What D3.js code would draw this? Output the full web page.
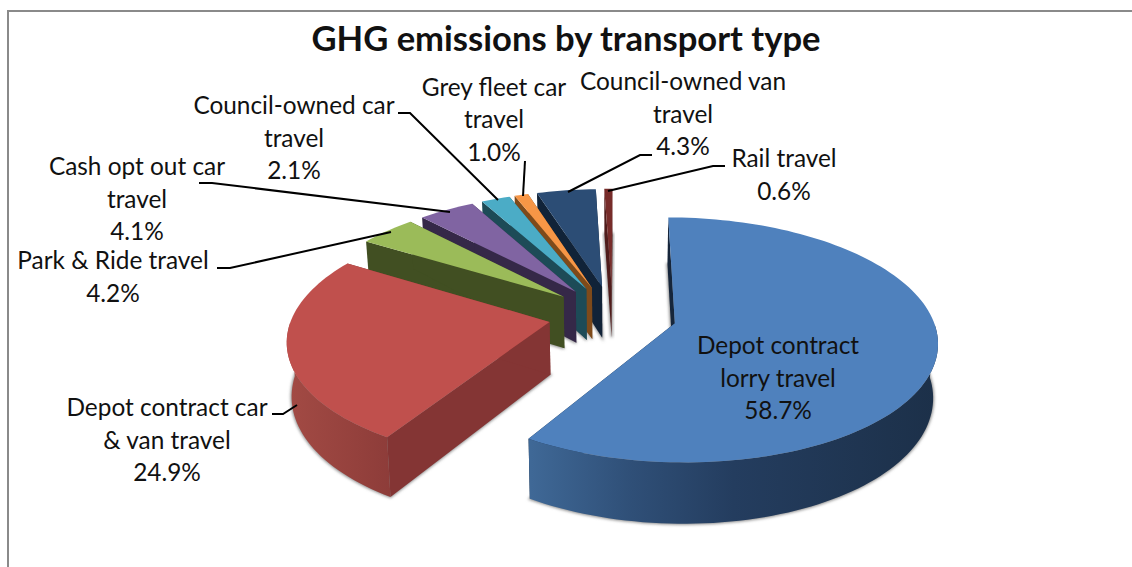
<!DOCTYPE html>
<html>
<head>
<meta charset="utf-8">
<script src="https://cdn.jsdelivr.net/npm/d3@7"></script>
<style>
  html, body { margin: 0; padding: 0; background: #fff; }
  text { font-family: Lato, "Open Sans", sans-serif; fill: #111; }
</style>
</head>
<body>
<div id="chart"></div>
<script>
// data
var categories = ["Depot contract lorry travel", "Depot contract car & van travel", "Park & Ride travel",
    "Cash opt out car travel", "Council-owned car travel", "Grey fleet car travel",
    "Council-owned van travel", "Rail travel"];
var shares = [58.7, 24.9, 4.2, 4.1, 2.1, 1.0, 4.3, 0.6];

// wrapped label text, same order as categories
var labelLines = [
    ["Depot contract", "lorry travel"],
    ["Depot contract car", "& van travel"],
    ["Park & Ride travel"],
    ["Cash opt out car", "travel"],
    ["Council-owned car", "travel"],
    ["Grey fleet car", "travel"],
    ["Council-owned van", "travel"],
    ["Rail travel"]
];

var topColours = ["#4f81bd", "#c0504d", "#9bbb59", "#8064a2", "#4bacc6", "#f79646", "#2c4d75", "#772c2a"];
var wallColours = ["#16263b", "#843534", "#414f22", "#352848", "#1d4b57", "#7e4a1a", "#112338", "#4f1c1b"];

// label anchor (centre x, first baseline) and leader line, layout only
var labelPos = [[778, 354], [167, 416], [113, 269], [137, 175], [294, 114], [494, 95.5], [683, 90], [784, 167]];
var leaders = [
    null,
    [[297, 405], [283, 414], [272, 414]],
    [[391, 232], [230, 268], [217, 268]],
    [[450, 212], [212, 183], [199, 183]],
    [[498, 200], [410, 113], [398, 113]],
    [[523, 196], [525, 161]],
    [[568, 192], [640, 155], [652, 155]],
    [[608, 191], [713, 166], [725, 166]]
];

var width = 1132, height = 567;
var lineStep = 32.5;

// pie plane -> screen, simple perspective
var perspective = 0.135, explode = 0.25, depth = 52.5, depthShrink = 0.985, rotation = 0.004;
var xScale = d3.scaleLinear().domain([-1, 1]).range([612.5 - 257, 612.5 + 257]);
var yScale = d3.scaleLinear().domain([-1, 1]).range([315 - 118, 315 + 118]);

function project(u, v) {
    var w = 1 - perspective * v;
    return [xScale(u / w), yScale(v / w)];
}

function projectBottom(u, v) {
    var w = 1 - perspective * v;
    var p = project(u, v);
    return [xScale(0) + (p[0] - xScale(0)) * depthShrink, p[1] + depth / w];
}

var svg = d3.select("#chart")
    .append("svg")
    .attr("width", width)
    .attr("height", height);

var defs = svg.append("defs");

defs.append("filter")
    .attr("id", "soft")
    .attr("x", "-20%").attr("y", "-20%").attr("width", "140%").attr("height", "140%")
    .append("feGaussianBlur")
    .attr("stdDeviation", 1.6);

// outer wall shading
function wallGradient(id, x1, x2, stops) {
    var g = defs.append("linearGradient")
        .attr("id", id)
        .attr("gradientUnits", "userSpaceOnUse")
        .attr("x1", x1).attr("x2", x2).attr("y1", 0).attr("y2", 0);
    stops.forEach(function(s) {
        g.append("stop").attr("offset", s[0]).attr("stop-color", s[1]);
    });
}
wallGradient("wall0", 531, 935, [[0, "#3f6896"], [0.25, "#2f4f77"], [0.5, "#243d5f"], [1, "#1c3049"]]);
wallGradient("wall1", 290, 392, [[0, "#a24a44"], [1, "#8d3c39"]]);

svg.append("path")
    .attr("d", "M8," + height + "V11H" + width)
    .attr("fill", "none")
    .attr("stroke", "#8a8a8a")
    .attr("stroke-width", 2);

svg.append("text")
    .attr("x", 566)
    .attr("y", 51)
    .attr("text-anchor", "middle")
    .style("font-size", "34.6px")
    .style("font-weight", 700)
    .text("GHG emissions by transport type");

var pie = d3.pie().sort(null).value(function(d) { return d; })
    .startAngle(rotation).endAngle(rotation + 2 * Math.PI);
var arcs = pie(shares);

var line = d3.line();

function slicePoints(d) {
    var mid = (d.startAngle + d.endAngle) / 2;
    var ox = explode * Math.sin(mid), oy = -explode * Math.cos(mid);
    var n = Math.max(2, Math.ceil((d.endAngle - d.startAngle) / 0.03));
    var rim = d3.range(n + 1).map(function(i) {
        var a = d.startAngle + (d.endAngle - d.startAngle) * i / n;
        return { a: a, u: ox + Math.sin(a), v: oy - Math.cos(a) };
    });
    return { ox: ox, oy: oy, rim: rim };
}

var slices = arcs.map(function(d, i) {
    var s = slicePoints(d);
    s.index = i;
    s.first = s.rim[0];
    s.last = s.rim[s.rim.length - 1];
    return s;
});

// back slices first, the two big ones last
var drawOrder = [7, 6, 5, 4, 3, 2, 1, 0];

var g = svg.append("g");

drawOrder.forEach(function(i) {
    var s = slices[i];
    var top = [project(s.ox, s.oy)].concat(s.rim.map(function(r) { return project(r.u, r.v); }));
    var bottom = [projectBottom(s.ox, s.oy)].concat(s.rim.map(function(r) { return projectBottom(r.u, r.v); }));

    // blurred shadow on the floor
    g.append("path")
        .attr("d", line(bottom) + "Z")
        .attr("fill", "#8c8c8c")
        .attr("stroke", "#8c8c8c")
        .attr("stroke-width", 2)
        .attr("filter", "url(#soft)");

    // the two cut faces
    [s.first, s.last].forEach(function(r) {
        g.append("path")
            .attr("d", line([
                project(s.ox, s.oy), project(r.u, r.v),
                projectBottom(r.u, r.v), projectBottom(s.ox, s.oy)
            ]) + "Z")
            .attr("fill", wallColours[i]);
    });

    // outer wall, only the part turned to the viewer
    var front = s.rim.filter(function(r) { return Math.cos(r.a) < 0; });
    if (front.length > 1) {
        var wall = front.map(function(r) { return project(r.u, r.v); })
            .concat(front.slice().reverse().map(function(r) { return projectBottom(r.u, r.v); }));
        g.append("path")
            .attr("d", line(wall) + "Z")
            .attr("fill", i < 2 ? "url(#wall" + i + ")" : wallColours[i]);
    }

    g.append("path")
        .attr("d", line(top) + "Z")
        .attr("fill", topColours[i]);
});

// leaders
leaders.forEach(function(pts) {
    if (!pts) return;
    svg.append("path")
        .attr("d", line(pts))
        .attr("fill", "none")
        .attr("stroke", "#000")
        .attr("stroke-width", 2);
});

// labels
var pct = d3.format(".1f");
categories.forEach(function(name, i) {
    var text = svg.append("text")
        .attr("x", labelPos[i][0])
        .attr("y", labelPos[i][1])
        .attr("text-anchor", "middle")
        .style("font-size", "24.4px")
        .attr("aria-label", name);
    labelLines[i].concat(pct(shares[i]) + "%").forEach(function(t, j) {
        text.append("tspan")
            .attr("x", labelPos[i][0])
            .attr("y", labelPos[i][1] + j * lineStep)
            .text(t);
    });
});
</script>
</body>
</html>
